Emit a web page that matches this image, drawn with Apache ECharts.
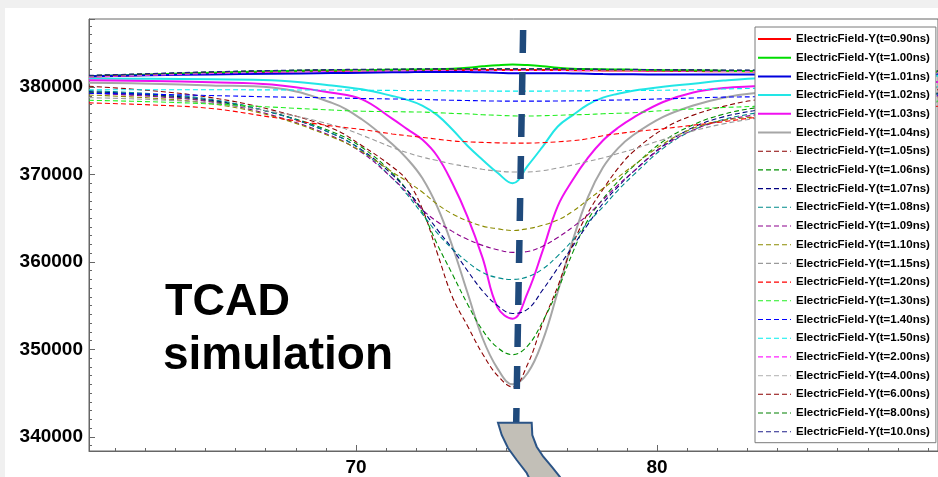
<!DOCTYPE html>
<html>
<head>
<meta charset="utf-8">
<script src="https://cdn.jsdelivr.net/npm/echarts@6/dist/echarts.min.js"></script>
<style>
html,body{margin:0;padding:0;background:#f0f0f0;width:938px;height:477px;overflow:hidden;}
#c{position:absolute;left:5px;top:8px;width:933px;height:469px;background:#fff;}
</style>
</head>
<body>
<div id="c"></div>
<script>
// x positions (shared by all series)
const xValues = [61.13, 63.2, 65.2, 67.2, 69.2, 70.2, 71.2, 71.7, 72.2, 72.7, 73.2, 73.7, 74.2, 74.7, 75.2, 75.7, 76.2, 76.7, 77.2, 77.7, 78.2, 78.7, 79.2, 80.2, 81.2, 82.2, 83.2, 85.2, 89.33];

const seriesNames = [
  'ElectricField-Y(t=0.90ns)','ElectricField-Y(t=1.00ns)','ElectricField-Y(t=1.01ns)','ElectricField-Y(t=1.02ns)',
  'ElectricField-Y(t=1.03ns)','ElectricField-Y(t=1.04ns)','ElectricField-Y(t=1.05ns)','ElectricField-Y(t=1.06ns)',
  'ElectricField-Y(t=1.07ns)','ElectricField-Y(t=1.08ns)','ElectricField-Y(t=1.09ns)','ElectricField-Y(t=1.10ns)',
  'ElectricField-Y(t=1.15ns)','ElectricField-Y(t=1.20ns)','ElectricField-Y(t=1.30ns)','ElectricField-Y(t=1.40ns)',
  'ElectricField-Y(t=1.50ns)','ElectricField-Y(t=2.00ns)','ElectricField-Y(t=4.00ns)','ElectricField-Y(t=6.00ns)',
  'ElectricField-Y(t=8.00ns)','ElectricField-Y(t=10.0ns)'
];

const t090 = [381200,381410,381610,381760,381860,381900,381925,381940,381950,381960,381960,381960,381960,381960,381960,381960,381960,381960,381950,381940,381920,381910,381900,381870,381850,381820,381800,381780,381750];
const t100 = [381250,381460,381660,381810,381910,381950,381990,382010,382030,382060,382120,382220,382380,382520,382600,382530,382400,382230,382100,382060,382040,382020,382000,381950,381920,381880,381850,381820,381780];
const t101 = [381250,381360,381460,381540,381610,381650,381700,381715,381730,381740,381750,381730,381700,381650,381600,381600,381600,381590,381570,381540,381500,381485,381470,381450,381450,381450,381450,381450,381450];
const t102 = [381000,380950,380900,380800,380200,379750,379000,378550,377900,376800,375150,373300,371700,370200,369000,371000,373200,375500,376800,378000,378800,379250,379600,380050,380400,380750,381000,381200,381300];
const t103 = [380800,380700,380550,380300,379350,378600,376400,375200,374000,372100,369000,365200,360500,354800,353500,356500,361300,366400,369400,371900,373900,375350,376500,378300,379400,379900,380100,380400,380600];
const t104 = [380500,380400,380200,379950,378200,376300,373500,371800,369600,366300,361800,356500,351300,347800,346000,347300,351000,356600,362500,367400,370800,373000,374500,376600,377900,378800,379300,379700,380000];
const t105 = [380100,379600,378800,377400,375300,373300,370900,369300,366100,361000,356000,352700,349500,347000,345700,348300,353000,357200,362000,365600,368300,370700,372600,375200,376800,377800,378500,379200,379700];
const t106 = [379400,379050,378400,377100,374900,373100,370200,368200,365700,362000,358600,355200,352200,350200,349400,350400,353200,356800,361100,364800,367200,369200,370900,373800,375700,376900,377600,378600,379300];
const t107 = [379500,379150,378500,377100,374700,372800,370000,368200,366000,363700,361500,359000,356700,355000,354100,354600,356800,359300,361800,364300,366700,368600,370300,373300,375400,376600,377300,378500,379300];
const t108 = [379600,379250,378600,377100,374700,372700,369600,367700,365500,363300,361500,360000,358800,358200,358000,358300,359200,360700,362500,364500,366300,368200,369900,373000,375100,376300,377000,378300,379200];
const t109 = [379300,378950,378300,376800,374400,372500,369600,367900,366000,364600,363500,362600,361900,361400,361100,361200,361800,362800,364000,365400,367100,368800,370300,373200,375100,376200,376800,378000,379000];
const t110 = [379100,378750,378100,376700,374300,372600,370300,369200,368000,366600,365500,364700,364100,363800,363600,363800,364200,364800,365800,367100,368400,369700,371000,373500,375300,376200,376600,377800,378800];
const t115 = [378800,378580,378150,377200,375700,374500,373100,372500,372000,371600,371200,370900,370600,370400,370300,370300,370450,370750,371100,371500,371900,372400,372900,374000,375000,375800,376400,377500,378300];
const t120 = [378200,377970,377560,376560,375560,375150,374650,374450,374250,374050,373850,373750,373680,373630,373600,373600,373650,373750,373880,374100,374450,374680,374900,375250,375650,376050,376500,377200,377800];
const t130 = [378500,378330,378080,377720,377380,377250,377200,377170,377150,377080,377000,376950,376850,376780,376720,376700,376740,376780,376840,376880,376960,377010,377070,377320,377520,377670,377800,378100,378400];
const t140 = [379300,379190,379040,378890,378780,378700,378650,378620,378600,378550,378500,378470,378440,378410,378400,378400,378400,378420,378440,378470,378500,378530,378560,378660,378760,378860,378900,379000,379100];
const t150 = [379700,379700,379700,379690,379670,379650,379630,379615,379600,379590,379580,379570,379560,379550,379550,379550,379550,379560,379570,379580,379600,379610,379620,379650,379710,379790,379860,379960,380050];
const t200 = [381150,381360,381560,381710,381810,381850,381875,381890,381900,381900,381900,381900,381900,381900,381900,381900,381900,381900,381900,381890,381880,381875,381870,381850,381830,381820,381800,381780,381750];
const t400 = [381250,381460,381660,381810,381910,381950,381975,381990,382000,382010,382010,382010,382010,382010,382010,382010,382010,382010,382000,381990,381970,381960,381950,381920,381900,381870,381850,381820,381780];
const t600 = [381300,381510,381710,381860,381960,382000,382015,382030,382050,382060,382060,382060,382060,382060,382060,382060,382060,382060,382050,382040,382010,382005,382000,381960,381950,381910,381900,381860,381810];
const t800 = [381325,381535,381735,381885,381985,382025,382035,382055,382075,382080,382080,382080,382080,382080,382080,382080,382080,382080,382075,382060,382030,382025,382020,381980,381975,381930,381925,381880,381830];
const t1000 = [381350,381560,381760,381910,382010,382050,382060,382080,382100,382100,382100,382100,382100,382100,382100,382100,382100,382100,382100,382080,382050,382045,382040,382000,382000,381950,381950,381900,381850];

// annotation: thick dashed marker line (data coordinates)
const markerTop = [75.55, 386540];
const markerBottom = [75.32, 341680];

const allValues = [t090,t100,t101,t102,t103,t104,t105,t106,t107,t108,t109,t110,t115,t120,t130,t140,t150,t200,t400,t600,t800,t1000];
const styles = [
  ['#ff0000', false], ['#00dd00', false], ['#0000dd', false], ['#22e6e6', false],
  ['#f010f0', false], ['#a6a6a6', false], ['#8b0000', true], ['#009000', true],
  ['#000080', true], ['#008b8b', true], ['#8b008b', true], ['#8b8b00', true],
  ['#9a9a9a', true], ['#ff0000', true], ['#22ee22', true], ['#0000ff', true],
  ['#00eeee', true], ['#ff22ff', true], ['#c0c0c0', true], ['#8b0000', true],
  ['#008000', true], ['#20208a', true]
];

const FONT = '"Liberation Sans", Arial, sans-serif';

const series = allValues.map((vals, i) => {
  const [color, dashed] = styles[i];
  return {
    name: seriesNames[i],
    type: 'line',
    data: xValues.map((x, k) => [x, vals[k]]),
    showSymbol: false,
    symbol: 'none',
    smooth: 0.4,
    color: color,
    lineStyle: { color: color, width: dashed ? 1.1 : 2, type: dashed ? [5, 3] : 'solid' },
    emphasis: { disabled: true },
    silent: true
  };
});
series[series.length - 1].markLine = {
  silent: true,
  symbol: ['none', 'none'],
  label: { show: false },
  lineStyle: { color: '#1f4a7c', width: 6.5, type: [23, 19], cap: 'butt' },
  emphasis: { disabled: true },
  data: [[{ coord: markerTop }, { coord: markerBottom }]]
};

const chart = echarts.init(document.getElementById('c'), null, { renderer: 'canvas' });
chart.setOption({
  animation: false,
  backgroundColor: '#ffffff',
  grid: { left: 84, top: 11, right: 0, bottom: 25, show: true, borderColor: '#666', borderWidth: 1, containLabel: false },
  xAxis: {
    type: 'value', min: 61.13, max: 89.33, splitNumber: 2,
    axisLine: { show: true, onZero: false, lineStyle: { color: '#666', width: 1 } },
    axisTick: { show: true, inside: true, length: 6, lineStyle: { color: '#666' } },
    minorTick: { show: true, splitNumber: 10, length: 3, lineStyle: { color: '#666' } },
    splitLine: { show: false },
    axisLabel: { color: '#000', fontSize: 19, fontWeight: 'bold', fontFamily: FONT, margin: 7, showMinLabel: false, showMaxLabel: false,
      formatter: v => String(v) }
  },
  yAxis: {
    type: 'value', min: 338370, max: 387800, splitNumber: 5,
    axisLine: { show: true, onZero: false, lineStyle: { color: '#666', width: 1 } },
    axisTick: { show: true, inside: true, length: 6, lineStyle: { color: '#666' } },
    minorTick: { show: true, splitNumber: 10, length: 3, lineStyle: { color: '#666' } },
    splitLine: { show: false },
    axisLabel: { color: '#000', fontSize: 19, fontWeight: 'bold', fontFamily: FONT, margin: 6, showMinLabel: false, showMaxLabel: false,
      formatter: v => String(v) }
  },
  legend: {
    orient: 'vertical', left: 750, top: 19,
    padding: [6, 6, 5, 2],
    itemWidth: 33, itemHeight: 12, itemGap: 6.7,
    backgroundColor: '#ffffff', borderColor: '#7a7a7a', borderWidth: 1,
    selectedMode: false,
    itemStyle: { opacity: 0 },
    lineStyle: { width: 'inherit' },
    textStyle: { color: '#000', fontSize: 11.5, fontWeight: 'bold', fontFamily: FONT, lineHeight: 12 },
    data: seriesNames
  },
  graphic: [
    { type: 'text', x: 160, y: 295, z: 50, silent: true,
      style: { text: 'TCAD', font: 'bold 45px ' + FONT, fill: '#000', verticalAlign: 'middle', textVerticalAlign: 'middle' } },
    { type: 'text', x: 158, y: 348, z: 50, silent: true,
      style: { text: 'simulation', font: 'bold 46px ' + FONT, fill: '#000', verticalAlign: 'middle', textVerticalAlign: 'middle' } },
    { type: 'polygon', z: 100, silent: true,
      shape: { points: [[493,414.7],[526.7,414.7],[527.3,427],[531.7,438.7],[538.3,448.7],[546.7,458.7],[555,469],[557,474],[526,474],[521.7,465],[511.7,452],[503,440],[496.7,427]] },
      style: { fill: '#c2bfb7', stroke: '#2b5486', lineWidth: 2 } }
  ],
  series: series
});
</script>
</body>
</html>
